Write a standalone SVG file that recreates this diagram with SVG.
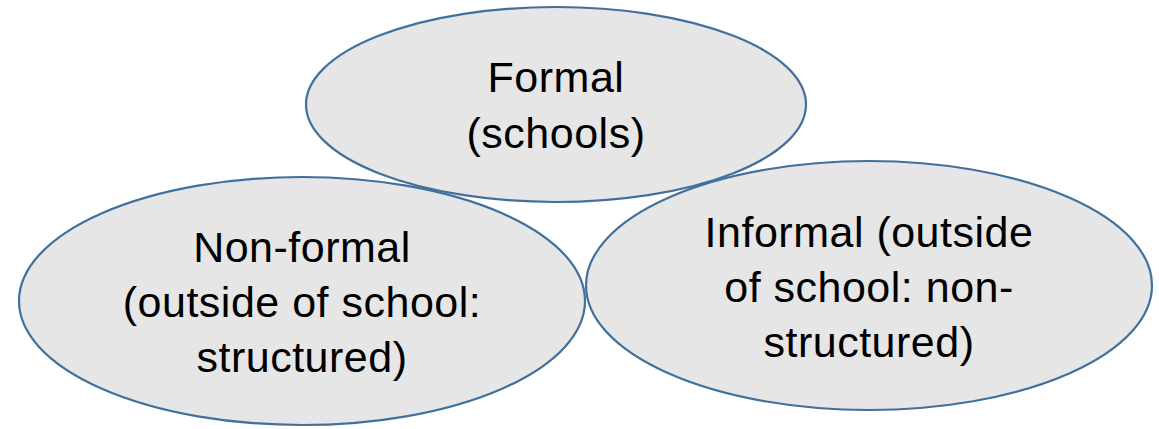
<svg xmlns="http://www.w3.org/2000/svg" width="1159" height="429" viewBox="0 0 1159 429">
<style>
.fill{fill:#e6e6e6;stroke:none}
.edge{fill:none;stroke:#41709c;stroke-width:2.2}
.t{font-family:"Liberation Sans",Arial,sans-serif;font-size:43px;fill:#000;text-anchor:middle;letter-spacing:0.5px}
</style>
<rect width="1159" height="429" fill="#fff"/>
<g id="node-formal">
<ellipse class="fill" cx="556" cy="104.5" rx="250" ry="97.5"/>
</g>
<g id="node-nonformal">
<ellipse class="fill" cx="302" cy="301" rx="283" ry="124"/>
</g>
<g id="node-informal">
<ellipse class="fill" cx="869" cy="285.5" rx="283" ry="124.5"/>
</g>
<g id="outlines">
<ellipse class="edge" cx="556" cy="104.5" rx="250" ry="97.5"/>
<ellipse class="edge" cx="302" cy="301" rx="283" ry="124"/>
<ellipse class="edge" cx="869" cy="285.5" rx="283" ry="124.5"/>
</g>
<g id="labels">
<text class="t" x="556" y="92">Formal</text>
<text class="t" x="556" y="148">(schools)</text>
<text class="t" x="302" y="262">Non-formal</text>
<text class="t" x="302" y="317">(outside of school:</text>
<text class="t" x="302" y="372">structured)</text>
<text class="t" x="869" y="247">Informal (outside</text>
<text class="t" x="869" y="302">of school: non-</text>
<text class="t" x="869" y="357">structured)</text>
</g>
</svg>
